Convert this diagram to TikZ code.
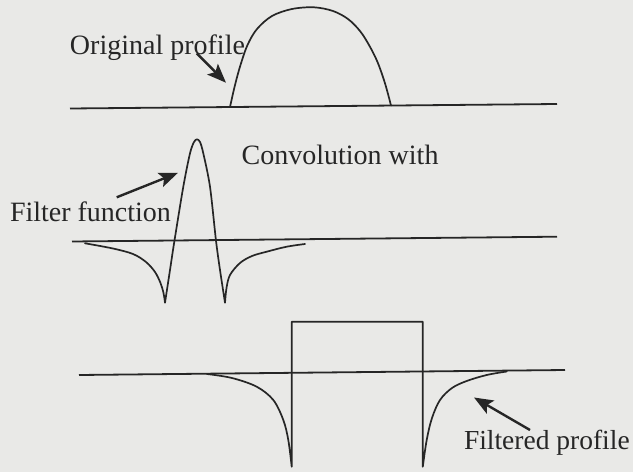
\documentclass[tikz,border=0pt]{standalone}
\usepackage{fontspec}
\setmainfont{Liberation Serif}
\usetikzlibrary{arrows.meta}
\definecolor{bg}{RGB}{233,233,231}
\definecolor{ink}{RGB}{38,38,38}
\begin{document}
\begin{tikzpicture}[x=1pt,y=-1pt,
  curve/.style={draw=ink,line width=1.7pt,line join=round,line cap=round},
  axis/.style={draw=ink,line width=1.8pt},
  lbl/.style={inner sep=0pt,outer sep=0pt,anchor=base west,text=ink,font=\fontsize{28}{32}\selectfont},
  pointer/.style={draw=ink,line width=2.4pt,-{Stealth[length=19pt,width=15pt,inset=4pt]}}]
\fill[bg] (0,0) rectangle (633,472);
\useasboundingbox (0,0) rectangle (633,472);

% ---------- top: original profile ----------
\coordinate (t0) at (70,108.5);
\coordinate (t1) at (557,104);
\draw[axis] (t0) -- (t1);
\draw[curve] plot[smooth,tension=0.55] coordinates {
  (230,107) (235,85) (240.5,65) (247.5,45) (257,29) (272,16)
  (292,9) (314,7.3) (333,11) (348,19) (360,31)
  (369,45) (377.5,62) (385,83.3) (391,105.5)};
\node[lbl] (orig) at (70,54.5) {Original profile};
\coordinate (a1s) at (196.7,53.3);
\coordinate (a1e) at (226,82.7);
\draw[pointer] (a1s) -- (a1e);

% ---------- middle: filter function ----------
\coordinate (m0) at (72,241.5);
\coordinate (m1) at (557,236.7);
\draw[axis] (m0) -- (m1);
\draw[curve] plot[smooth,tension=0.55] coordinates {
  (85,243.3) (113,248.5) (133,254) (146,262) (155,272) (160.5,283) (163.5,293) (165,302.7)}
  -- plot[smooth,tension=0.5] coordinates {
  (165,302.7) (170,270) (174.3,241.7) (183.3,186.7) (190,153.3) (194,142) (197,139.3)
  (200,142) (203.3,153.3) (210,186.7) (216,240.7) (220,270) (225,302.7)}
  -- plot[smooth,tension=0.55] coordinates {
  (225,302.7) (226.5,288) (230,275) (240,263) (252,256) (266.7,251.7) (286.7,246.7) (305,244)};
\node[lbl] (conv) at (241.7,164) {Convolution with};
\node[lbl] (filt) at (10,221.7) {Filter function};
\coordinate (a2s) at (116.7,197.3);
\coordinate (a2e) at (178,172.8);
\draw[pointer] (a2s) -- (a2e);

% ---------- bottom: filtered profile ----------
\coordinate (b0) at (79,375);
\coordinate (b1) at (565,370);
\draw[axis] (b0) -- (b1);
\draw[curve] plot[smooth,tension=0.55] coordinates {
  (207,374) (232,378) (256.7,386.7) (273.3,400) (283.3,420) (288.3,440) (291.7,466.7)}
  -- (291.7,321.7) -- (422.8,321.7) -- (422.8,466.7)
  -- plot[smooth,tension=0.55] coordinates {
  (422.8,466.7) (426.7,440) (432,418) (440,400) (452,388) (466.7,381) (486.7,375) (506.7,371.5)};
\node[lbl,font=\fontsize{27.5}{32}\selectfont] (filtd) at (464,449) {Filtered profile};
\coordinate (a3s) at (530,430);
\coordinate (a3e) at (474,397.5);
\draw[pointer] (a3s) -- (a3e);
\end{tikzpicture}
\end{document}
